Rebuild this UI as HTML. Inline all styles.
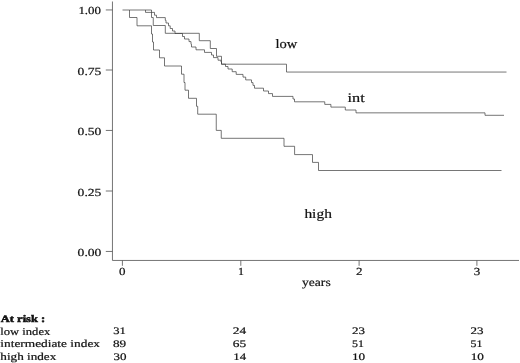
<!DOCTYPE html>
<html>
<head>
<meta charset="utf-8">
<title>Kaplan-Meier</title>
<style>
html,body{margin:0;padding:0;background:#fff;}
body{width:520px;height:363px;overflow:hidden;font-family:"Liberation Serif",serif;}
svg{display:block;filter:grayscale(1);}
text{font-family:"Liberation Serif",serif;fill:#111;text-rendering:geometricPrecision;stroke:#111;stroke-width:0.2;}
.ax{stroke:#505050;stroke-width:0.8;fill:none;}
.cv{stroke:#404040;stroke-width:0.72;fill:none;stroke-linejoin:miter;}
</style>
</head>
<body>
<svg width="520" height="363" viewBox="0 0 520 363">
<rect width="520" height="363" fill="#fff"/>
<!-- axes -->
<path class="ax" d="M112.45 1.5V260.45H519"/>
<path class="ax" d="M105.8 9.95H112.45M105.8 70H112.45M105.8 130.45H112.45M105.8 191H112.45M105.8 251.45H112.45"/>
<path class="ax" d="M122.4 260.45V265.8M240.8 260.45V265.8M359.1 260.45V265.8M476.9 260.45V265.8"/>
<!-- y labels -->
<g font-size="10.8" style="stroke-width:0">
<text x="78.4" y="14.4" textLength="22.6" lengthAdjust="spacingAndGlyphs">1.00</text>
<text x="77.6" y="74.8" textLength="23.8" lengthAdjust="spacingAndGlyphs">0.75</text>
<text x="77.6" y="135.3" textLength="23.8" lengthAdjust="spacingAndGlyphs">0.50</text>
<text x="77.6" y="195.8" textLength="23.8" lengthAdjust="spacingAndGlyphs">0.25</text>
<text x="77.6" y="256.1" textLength="23.8" lengthAdjust="spacingAndGlyphs">0.00</text>
</g>
<!-- x labels -->
<g font-size="10.8" style="stroke-width:0.05">
<text x="119" y="275.1" textLength="6.5" lengthAdjust="spacingAndGlyphs">0</text>
<text x="238" y="275.1" textLength="6" lengthAdjust="spacingAndGlyphs">1</text>
<text x="356" y="275.1" textLength="6.5" lengthAdjust="spacingAndGlyphs">2</text>
<text x="473.8" y="275.1" textLength="6.5" lengthAdjust="spacingAndGlyphs">3</text>
</g>
<text x="302" y="285.6" font-size="11.5" textLength="28.7" lengthAdjust="spacingAndGlyphs">years</text>
<!-- curve labels -->
<g font-size="13">
<text x="275.5" y="48.4" font-size="12.9" textLength="21.8" lengthAdjust="spacingAndGlyphs">low</text>
<text x="347.6" y="101.9" textLength="17.2" lengthAdjust="spacingAndGlyphs">int</text>
<text x="304.4" y="217.8" textLength="27.5" lengthAdjust="spacingAndGlyphs">high</text>
</g>
<!-- curves -->
<path class="cv" d="M122.5 10H129.5V17.5H137V25.8H151.5V34H152.5V42H153.5V50H159.5V57.8H164.5V66H181.5V74.2H184V82.5H185V90.2H188.5V98.3H196.5V106.3H197.7V114.2H216.25V130.4H221.25V138.3H284V146.3H294.6V154.6H312.5V162.4H318.5V170.5H501.5"/>
<path class="cv" d="M129.5 10H151.5V17.5H153.25V25.5H165.3V33.3H199.3V40.7H210.3V48.5H216.5V56.3H221.5V64.2H286.5V72.05H506.5"/>
<path class="cv" d="M145.5 10V12.4H154.5V15.2H156.5V17.6H165.3V20.3H166V23H168.5V25.8H170.2V28.5H172.5V31H175V33.5H182.5V36.5H184.5V39H189V41.6H191V44.3H191.5V47H196V49.8H204.5V52.4H211.5V55H213.5V57.6H218V60.2H221V62H221.5V64.2H225.5V66.5H228V69H232.2V71.7H236.2V74.4H243V77.1H245.7V79.9H251.5V82.6H253V85.4H254.5V88.2H263.5V91H268.5V93.6H272.5V96.4H293V99H294.5V101.8H324.75V104.4H330.9V107.1H345.3V110H356V112.85H485V115.3H504"/>
<!-- at risk table -->
<text x="0.8" y="321.8" font-size="10" font-weight="bold" style="stroke-width:0.5" textLength="44.4" lengthAdjust="spacingAndGlyphs">At risk :</text>
<g font-size="10.5">
<text x="0.3" y="334.5" textLength="50" lengthAdjust="spacingAndGlyphs">low index</text>
<text x="0.3" y="347.3" textLength="99.7" lengthAdjust="spacingAndGlyphs">intermediate index</text>
<text x="0.3" y="359.6" textLength="56" lengthAdjust="spacingAndGlyphs">high index</text>
</g>
<g font-size="10">
<text x="113.3" y="334.4" textLength="12.6" lengthAdjust="spacingAndGlyphs">31</text>
<text x="113" y="347.1" textLength="13.2" lengthAdjust="spacingAndGlyphs">89</text>
<text x="113.4" y="359.5" textLength="13" lengthAdjust="spacingAndGlyphs">30</text>
<text x="232.7" y="334.4" textLength="13.4" lengthAdjust="spacingAndGlyphs">24</text>
<text x="232.7" y="347.1" textLength="13.4" lengthAdjust="spacingAndGlyphs">65</text>
<text x="233.3" y="359.5" textLength="12.8" lengthAdjust="spacingAndGlyphs">14</text>
<text x="352" y="334.4" textLength="13" lengthAdjust="spacingAndGlyphs">23</text>
<text x="352" y="347.1" textLength="11.9" lengthAdjust="spacingAndGlyphs">51</text>
<text x="351.9" y="359.5" textLength="13.2" lengthAdjust="spacingAndGlyphs">10</text>
<text x="470.6" y="334.4" textLength="13" lengthAdjust="spacingAndGlyphs">23</text>
<text x="470.6" y="347.1" textLength="11.9" lengthAdjust="spacingAndGlyphs">51</text>
<text x="470.7" y="359.5" textLength="13.2" lengthAdjust="spacingAndGlyphs">10</text>
</g>
</svg>
</body>
</html>
